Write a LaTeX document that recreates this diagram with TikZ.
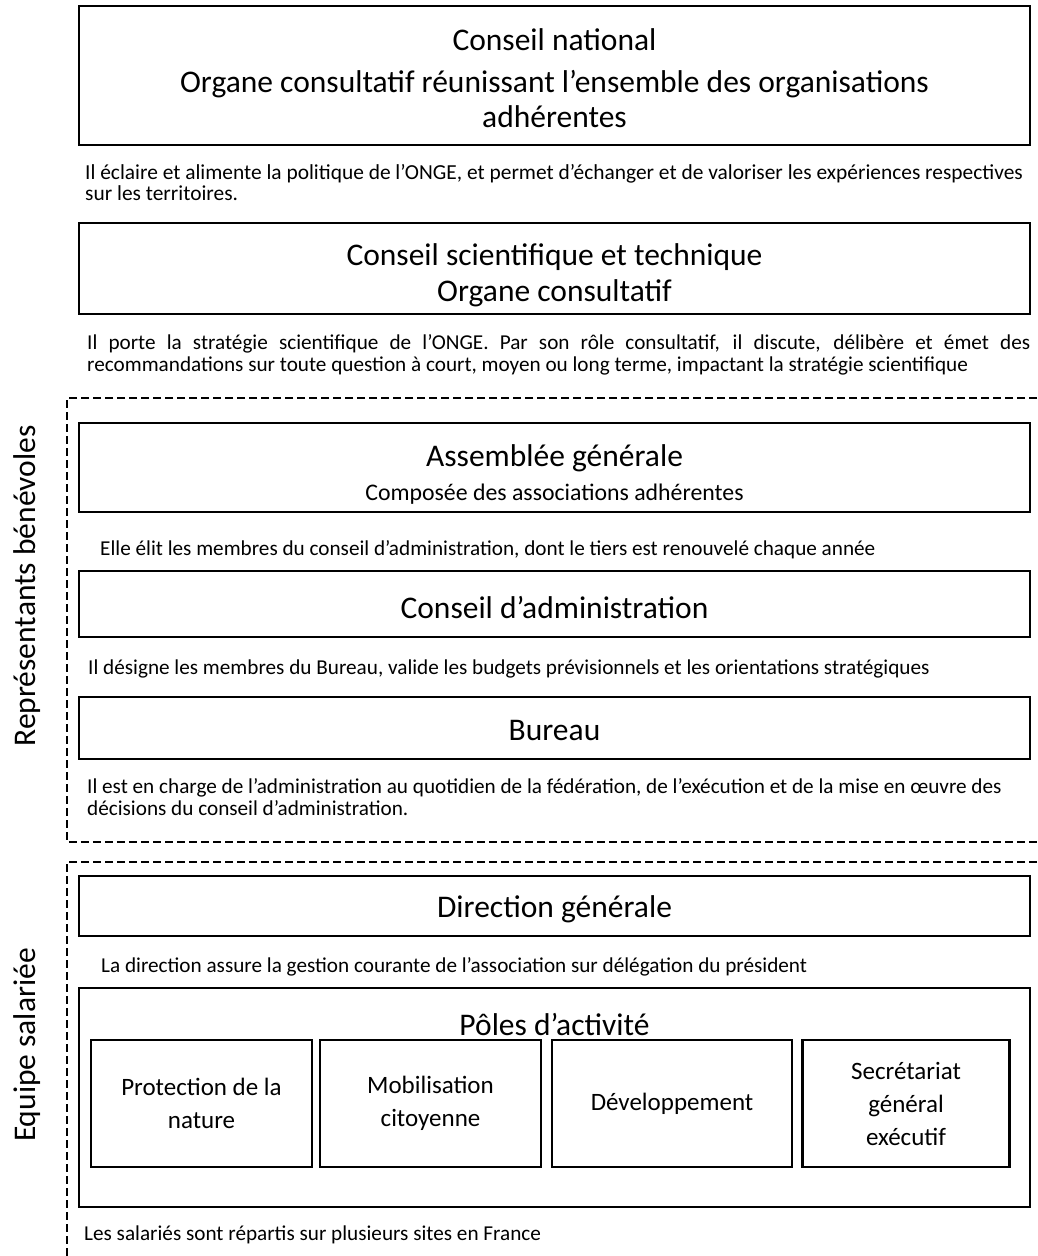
\documentclass[tikz,border=0pt]{standalone}
\usepackage{fontspec}
\setmainfont{Carlito}
\usetikzlibrary{positioning}

\newcommand{\ttlfont}{\fontsize{31.5}{36}\selectfont}
\newcommand{\subfont}{\fontsize{31.5}{35}\selectfont}
\newcommand{\compfont}{\fontsize{23.8}{26}\selectfont}
\newcommand{\descfont}{\fontsize{21.2}{21.5}\selectfont}
\newcommand{\polefont}{\fontsize{25}{33}\selectfont}
\newcommand{\groupfont}{\fontsize{31.5}{34}\selectfont}

\tikzset{
  orgbox/.style={draw, line width=2.4pt, minimum width=951pt, inner sep=0pt},
  boxtext/.style={inner sep=0pt, align=center},
  polebox/.style={draw, line width=2.4pt, minimum height=127pt, inner sep=0pt, align=center, font=\polefont},
  desc/.style={anchor=west, inner sep=0pt, font=\descfont, align=left},
  grouplim/.style={line width=1.8pt, dash pattern=on 8pt off 4pt},
  grouplabel/.style={rotate=90, inner sep=0pt, font=\groupfont}
}

\begin{document}
\begin{tikzpicture}[x=1pt, y=-1pt]
  \useasboundingbox (0,0) rectangle (1037,1256);

  % consultative bodies
  \node[orgbox, minimum height=139pt] (natl) at (554.5,75.5) {};
  \node[boxtext, font=\subfont] (natltxt) at (554.5,78.5)
    {{\ttlfont Conseil national}\\[7pt]Organe consultatif réunissant l’ensemble des organisations\\adhérentes};
  \node[desc, font=\fontsize{21.4}{21.5}\selectfont] (dnatl) at (85,182.5)
    {Il éclaire et alimente la politique de l’ONGE, et permet d'échanger et de valoriser les expériences respectives\\sur les territoires.};

  \node[orgbox, minimum height=91pt] (sci) at (554.5,268.5) {};
  \node[boxtext, font=\subfont] (scitxt) at (554.5,275.5)
    {{\ttlfont Conseil scientifique et technique}\\[1pt]Organe consultatif};
  \node[desc, text width=943pt, align=justify] (dsci) at (87,355)
    {Il porte la stratégie scientifique de l’ONGE. Par son rôle consultatif, il discute, délibère et émet des\linebreak recommandations sur toute question à court, moyen ou long terme, impactant la stratégie scientifique};

  % volunteer representatives
  \coordinate (benevtr) at (1037,398);
  \coordinate (benevtl) at (67,398);
  \coordinate (benevbl) at (67,842);
  \coordinate (benevbr) at (1037,842);
  \draw[grouplim] (benevtr) -- (benevtl) -- (benevbl) -- (benevbr);
  \node[grouplabel] (lbenev) at (27,586) {Représentants bénévoles};

  \node[orgbox, minimum height=89pt] (ag) at (554.5,467.5) {};
  \node[boxtext, font=\compfont] (agtxt) at (554.5,474)
    {{\ttlfont Assemblée générale}\\[8pt]Composée des associations adhérentes};
  \node[desc] (dag) at (100,550)
    {Elle élit les membres du conseil d’administration, dont le tiers est renouvelé chaque année};

  \node[orgbox, minimum height=66pt] (ca) at (554.5,604) {};
  \node[boxtext, font=\ttlfont] (catxt) at (554.5,608) {Conseil d’administration};
  \node[desc] (dca) at (88,669)
    {Il désigne les membres du Bureau, valide les budgets prévisionnels et les orientations stratégiques};

  \node[orgbox, minimum height=62pt] (bureau) at (554.5,728) {};
  \node[boxtext, font=\ttlfont] (burtxt) at (554.5,731) {Bureau};
  \node[desc] (dbur) at (87,797)
    {Il est en charge de l’administration au quotidien de la fédération, de l’exécution et de la mise en œuvre des\\décisions du conseil d’administration.};

  % salaried team
  \coordinate (saltr) at (1037,862);
  \coordinate (saltl) at (67,862);
  \coordinate (salbl) at (67,1256);
  \draw[grouplim] (saltr) -- (saltl) -- (salbl);
  \node[grouplabel] (lsal) at (27,1045) {Equipe salariée};

  \node[orgbox, minimum height=60pt] (dg) at (554.5,906) {};
  \node[boxtext, font=\ttlfont] (dgtxt) at (554.5,909) {Direction générale};
  \node[desc] (ddg) at (101,967)
    {La direction assure la gestion courante de l’association sur délégation du président};

  \node[orgbox, minimum height=219pt] (poles) at (554.5,1097.5) {};
  \node[boxtext, font=\ttlfont] (polestitle) at (554.5,1024) {Pôles d’activité};
  \node[polebox, minimum width=221pt] (pnat) at (201.5,1103.5) {Protection de la\\nature};
  \node[polebox, minimum width=221pt] (pmob) at (430.5,1103.5) {Mobilisation\\citoyenne};
  \node[polebox, minimum width=240pt] (pdev) at (672,1103.5) {Développement};
  \node[polebox, minimum width=207pt] (psec) at (906,1103.5) {Secrétariat\\général\\exécutif};
  \node[desc] (dpoles) at (84,1235) {Les salariés sont répartis sur plusieurs sites en France};
\end{tikzpicture}
\end{document}
